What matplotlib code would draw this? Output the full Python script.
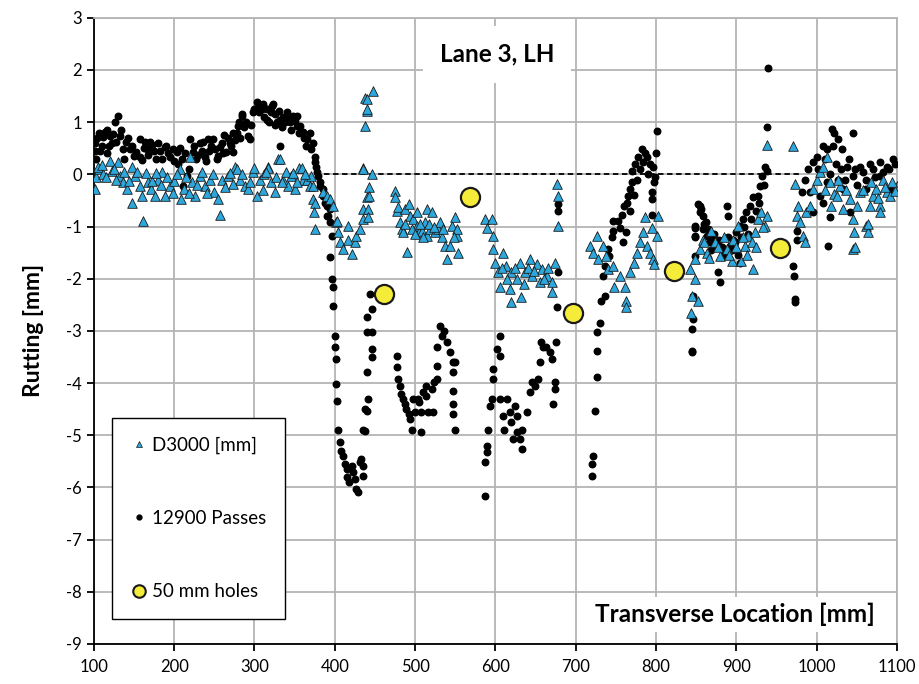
import matplotlib.pyplot as plt
from matplotlib.lines import Line2D

plt.rcParams['font.family'] = ['Lato', 'DejaVu Sans']
plt.rcParams['axes.unicode_minus'] = False

# 12900 Passes (black dots)
passes_x = [101, 101, 103, 107, 110, 114, 117, 120, 123, 126, 130, 132, 136, 140, 145, 150, 157, 157, 162, 166,
            170, 173, 178, 182, 188, 192, 195, 200, 203, 207, 210, 211, 216, 220, 223, 227, 232, 235, 238, 242,
            246, 251, 255, 259, 262, 265, 269, 273, 273, 278, 279, 282, 285, 285, 290, 292, 294, 298, 303, 304,
            309, 312, 315, 318, 322, 323, 326, 328, 332, 332, 336, 340, 344, 348, 353, 353, 357, 360, 362, 366,
            369, 371, 373, 375, 375, 377, 378, 379, 381, 381, 385, 385, 388, 390, 390, 392, 394, 394, 396, 394,
            396, 398, 398, 400, 400, 402, 402, 403, 404, 406, 408, 410, 413, 415, 415, 418, 421, 423, 425, 427,
            429, 431, 433, 435, 435, 435, 437, 437, 440, 441, 440, 440, 440, 444, 446, 446, 446, 446,
            477, 477, 479, 481, 483, 485, 487, 489, 492, 494, 496, 497, 500, 503, 505, 507, 507, 510, 514, 514,
            516, 521, 522, 524, 527, 527, 527, 531, 533, 536, 540, 543, 547, 550, 547, 547, 547, 547, 550,
            587, 587, 589, 589, 591, 593, 596, 597, 597, 602, 606, 606, 606, 609, 611, 614, 618, 620, 622, 625,
            627, 627, 630, 633, 633, 639, 643, 645, 649, 653, 655, 657, 659, 663, 668, 670, 674, 674, 672, 676,
            678, 678, 678, 677,
            720, 720, 722, 724, 726, 726, 726, 730, 732, 736, 734, 736, 740, 742, 745, 746, 746, 753, 755, 757,
            759, 764, 765, 767, 770, 770, 774, 778, 782, 784, 789, 790, 796, 797, 795, 795, 795, 801,
            845, 845, 845, 846, 846, 848, 848, 848, 848, 848, 852, 855, 855, 856, 858, 858, 862, 863, 867, 870,
            876, 877, 879, 882, 886, 888, 890, 892, 896, 900, 904, 904, 908, 912, 917, 921, 927, 930, 932, 938,
            938, 940,
            970, 972, 973, 973, 975, 975, 982, 985, 989, 992, 995, 996, 1000, 1004, 1008, 1008, 1013, 1013, 1014,
            1017, 1019, 1022, 1027, 1027, 1031, 1033, 1038, 1041, 1045, 1045, 1054, 1062, 1062, 1070, 1079, 1079,
            1087, 1091, 1095,
            104, 108, 112, 116, 119, 124, 128, 134, 138, 143, 148, 153, 160, 164, 168, 175, 180, 185, 190, 198,
            205, 213, 218, 225, 230, 236, 240, 244, 248, 253, 257, 261, 267, 271, 276, 281, 287, 296, 300, 306,
            311, 316, 320, 325, 330, 334, 338, 342, 346, 350, 355, 364,
            760, 762, 768, 772, 776, 780, 786, 792, 799, 800,
            860, 865, 868, 872, 878, 884, 890, 894, 898, 902, 906, 910, 914, 918, 924, 928, 934, 936,
            1002, 1010, 1016, 1020, 1024, 1030, 1035, 1040, 1048, 1050, 1058, 1066, 1073, 1083, 1090, 1098]
passes_y = [0.61, 0.44, 0.30, 0.80, 0.55, 0.82, 0.40, 0.73, 0.60, 1.00, 1.11, 0.73, 0.48, 0.62, 0.48, 0.35, 0.67, 0.34, 0.50, 0.48,
            0.62, 0.57, 0.29, 0.45, 0.52, 0.40, 0.34, 0.25, 0.42, 0.50, 0.29, -0.23, -0.04, 0.67, 0.42, 0.30, 0.61, 0.45, 0.34, 0.67,
            0.55, 0.48, 0.35, 0.61, 0.75, 0.42, 0.60, 0.80, 0.42, 0.80, 0.92, 0.70, 1.11, 1.15, 1.00, 0.73, 0.67, 1.20, 1.38, 1.30,
            1.25, 1.10, 1.25, 1.00, 1.30, 1.34, 1.15, 1.00, 0.54, 1.05, 1.10, 1.19, 1.00, 1.11, 1.11, 0.92, 0.92, 0.82, 0.70, 0.67,
            0.80, 0.48, 0.61, 0.34, 0.23, 0.15, 0.04, -0.04, -0.15, -0.23, -0.29, -0.42, -0.55, -0.61, -0.80, -0.80, -0.67, -0.92, -1.19, -1.59,
            -2.01, -2.15, -2.53, -3.10, -3.30, -3.54, -4.02, -4.35, -4.89, -5.13, -5.30, -5.40, -5.55, -5.65, -5.80, -5.90, -5.59, -5.70, -5.84, -6.03,
            -6.08, -5.52, -5.46, -5.59, -5.78, -4.89, -4.50, -4.92, -4.54, -4.31, -3.79, -3.03, -2.74, -2.30, -3.03, -2.59, -3.35, -3.50,
            -3.49, -3.70, -3.93, -4.06, -4.20, -4.31, -4.40, -4.50, -4.60, -4.69, -4.89, -4.31, -4.56, -4.31, -4.37, -4.56, -4.94, -4.18, -4.06, -4.25,
            -4.56, -4.12, -4.56, -3.98, -3.93, -3.68, -3.30, -2.91, -3.10, -3.00, -3.22, -3.41, -3.60, -3.60, -3.79, -4.16, -4.41, -4.60, -4.89,
            -5.52, -6.17, -5.21, -5.33, -4.89, -4.44, -4.31, -3.73, -3.93, -3.35, -3.10, -3.49, -4.31, -4.63, -4.89, -4.31, -4.56, -4.75, -5.08, -4.44,
            -4.94, -4.63, -5.08, -5.27, -4.89, -4.56, -4.18, -3.98, -4.06, -3.93, -3.60, -3.22, -3.30, -3.31, -3.41, -3.54, -3.98, -4.12, -4.41, -3.22,
            -0.57, -0.71, -1.88, -2.55,
            -5.79, -5.56, -5.40, -4.54, -3.89, -3.39, -3.03, -2.84, -2.43, -2.34, -1.95, -1.76, -1.44, -1.57, -1.21, -1.09, -0.90, -0.90, -1.02, -0.77,
            -1.30, -0.54, -0.42, -0.29, -0.15, 0.06, 0.19, 0.34, 0.48, 0.23, 0.34, 0.00, 0.15, -0.15, -0.34, -0.48, -0.77, 0.84,
            -3.41, -3.39, -2.97, -2.78, -2.34, -1.57, -1.21, -1.02, -0.99, -1.19, -0.57, -0.73, -0.61, -0.67, -0.80, -1.05, -0.92, -1.19, -1.30, -1.25,
            -1.38, -1.88, -2.07, -1.40, -1.50, -0.61, -0.80, -1.38, -1.25, -1.11, -0.99, -1.69, -0.86, -0.73, -0.61, -0.44, -0.42, -0.23, -0.04, 0.06,
            0.90, 2.03,
            -1.76, -1.95, -2.39, -2.45, -1.25, -1.09, -0.34, -0.10, 0.10, -0.34, 0.23, -0.73, 0.34, -0.42, 0.54, -0.54, 0.48, -0.15, -1.38,
            -0.82, 0.86, 0.80, 0.67, -0.10, 0.48, -0.29, 0.15, -0.73, 0.80, -0.04, 0.15, -0.10, -0.29, 0.10, 0.23, -0.04,
            0.15, -0.29, 0.29,
            0.70, 0.45, 0.72, 0.85, 0.55, 0.78, 0.62, 0.85, 0.30, 0.70, 0.55, 0.42, 0.28, 0.62, 0.38, 0.45, 0.60, 0.30, 0.55, 0.48,
            0.20, 0.40, 0.10, 0.55, 0.38, 0.62, 0.25, 0.45, 0.68, 0.30, 0.52, 0.40, 0.70, 0.55, 0.65, 1.00, 0.90, 0.95, 1.25, 1.20,
            1.35, 1.05, 1.20, 0.95, 1.22, 0.90, 1.00, 1.12, 0.85, 1.02, 0.80, 0.55,
            -0.60, -1.10, -0.70, -0.40, -0.10, 0.10, 0.40, 0.20, -0.05, 0.40,
            -0.95, -1.05, -1.45, -1.15, -1.25, -1.55, -1.20, -1.45, -1.30, -1.55, -1.20, -1.00, -1.15, -0.85, -0.70, -0.55, -0.20, 0.15,
            0.10, 0.30, 0.00, 0.55, 0.20, 0.10, -0.10, 0.30, 0.10, -0.20, 0.05, 0.20, -0.05, 0.05, 0.10, 0.20]

# D3000 [mm] (blue triangles)
d3000_x = [101, 103, 107, 105, 112, 120, 122, 130, 132, 136, 141, 147, 147, 151, 157, 160, 161, 167, 171, 176,
           180, 185, 188, 195, 200, 207, 209, 212, 220, 222, 226, 232, 238, 245, 250, 254, 257, 260, 267, 276,
           278, 282, 288, 292, 298, 300, 303, 307, 312, 317, 317, 321, 325, 329, 332, 336, 342, 346, 350, 356,
           359, 360, 365, 369, 371, 373, 373, 375, 375, 374, 385, 390, 394, 398, 402, 403, 404, 406, 410, 416,
           416, 421, 425, 427, 431, 435, 435, 435, 435, 437, 437, 440, 440, 440, 440, 442, 443, 446, 447, 441, 441,
           475, 475, 477, 479, 481, 484, 485, 487, 490, 493, 494, 498, 502, 502, 505, 508, 512, 515, 515, 518,
           521, 525, 528, 531, 533, 537, 540, 543, 546, 550, 552, 552, 553,
           587, 589, 596, 597, 597, 599, 603, 606, 609, 613, 620, 618, 620, 627, 630, 632, 637, 643, 646, 652,
           655, 658, 664, 670, 670, 674, 677, 678, 678,
           718, 722, 726, 728, 734, 738, 740, 746, 748, 755, 761, 763, 763, 768, 772, 776, 780, 784, 786, 789,
           792, 796, 801, 802, 795, 798,
           842, 848, 845, 852, 843, 848, 855, 858, 863, 869, 874, 880, 888, 894, 896, 902, 906, 911, 915, 919,
           921, 923, 927, 931, 936, 938, 938,
           970, 973, 977, 976, 979, 983, 985, 987, 992, 995, 1000, 1004, 1008, 1013, 1017, 1021, 1025, 1029, 1033, 1041,
           1045, 1047, 1045, 1048, 1054, 1062, 1064, 1064, 1066, 1070, 1074, 1079, 1079, 1083, 1087, 1091, 1100, 1098,
           110, 115, 125, 128, 138, 144, 154, 165, 173, 178, 183, 191, 198, 203, 215, 218, 229, 235, 241, 248,
           263, 270, 273, 285, 295, 310, 314, 327, 334, 339, 348, 353, 363,
           488, 496, 500, 506, 510, 517, 523, 535, 548,
           608, 615, 624, 635, 640, 648, 660, 666,
           860, 866, 877, 884, 891, 899, 908, 913, 925, 933,
           1010, 1018, 1026, 1037, 1050, 1058, 1068, 1076, 1085, 1094]
d3000_y = [-0.29, -0.05, 0.10, 0.15, 0.00, 0.25, 0.06, 0.23, -0.04, -0.15, -0.29, -0.54, 0.15, -0.04, -0.23, -0.42, -0.90, -0.15, -0.29, -0.42,
           -0.10, 0.04, -0.42, -0.23, -0.13, 0.10, -0.48, -0.29, 0.34, -0.15, -0.42, -0.04, -0.23, -0.10, -0.34, -0.48, -0.77, -0.10, -0.04, 0.15,
           0.10, -0.10, -0.23, -0.29, 0.04, 0.13, -0.42, -0.10, 0.00, 0.15, 0.13, -0.15, -0.34, 0.29, 0.29, -0.10, -0.23, -0.04, -0.29, 0.13,
           0.13, -0.10, -0.10, -0.23, -0.04, -0.23, -0.48, -0.54, -1.05, -0.73, -0.34, -0.42, -0.48, -0.61, -0.92, -0.90, -1.11, -1.30, -1.44, -0.99,
           -1.25, -1.53, -1.30, -1.19, -1.05, -0.86, -0.67, 0.13, 0.10, 0.92, 1.47, 1.21, 1.25, 1.44, -0.44, -0.25, -0.42, 0.00, 1.59, -0.67, -0.82,
           -0.32, -0.44, -0.71, -0.63, -0.92, -1.05, -1.11, -0.67, -1.49, -0.57, -0.80, -0.86, -0.99, -0.73, -1.11, -1.09, -0.92, -1.19, -0.67, -1.05,
           -0.73, -1.11, -1.05, -0.92, -1.21, -1.38, -1.63, -1.38, -0.99, -0.82, -1.19, -1.05, -1.50,
           -0.86, -1.02, -0.86, -1.19, -1.44, -1.69, -1.88, -2.15, -1.50, -1.76, -1.88, -2.20, -2.45, -2.01, -1.69, -2.36, -1.88, -1.63, -1.95, -1.72,
           -2.07, -1.82, -1.95, -2.07, -2.26, -1.69, -0.19, -0.42, -0.99,
           -1.38, -1.50, -1.19, -1.63, -1.38, -1.57, -1.82, -1.76, -2.15, -1.95, -2.15, -2.43, -2.55, -1.88, -1.69, -1.50, -1.30, -1.11, -0.82, -1.38,
           -1.50, -1.63, -1.19, -0.80, -1.02, -1.72,
           -1.82, -2.01, -2.34, -2.43, -2.65, -1.63, -1.44, -1.25, -1.50, -1.09, -1.30, -1.57, -1.44, -1.67, -1.25, -0.99, -1.67, -1.38, -1.19, -1.30,
           -1.82, -1.11, -0.86, -0.73, -0.99, -0.80, 0.57,
           0.54, -0.19, -0.61, -0.80, -0.92, -1.19, -1.30, -0.73, -0.61, -0.29, -0.10, 0.04, 0.15, 0.34, -0.15, -0.38, -0.42, -0.23, -0.67, -0.48,
           -0.86, -1.11, -1.44, -1.40, -0.34, -0.99, -1.11, -0.96, -0.61, -0.42, -0.29, -0.61, -0.73, -0.10, -0.34, -0.42, -0.23, -0.32,
           0.18, -0.05, 0.10, -0.10, 0.05, -0.12, 0.05, 0.02, -0.12, 0.02, -0.20, -0.05, -0.35, 0.00, -0.05, -0.35, -0.20, 0.05, -0.35, 0.00,
           -0.25, 0.02, -0.18, 0.00, -0.15, -0.30, 0.05, -0.05, -0.15, 0.05, 0.02, -0.15, 0.00,
           -0.95, -1.05, -1.15, -0.95, -1.20, -0.95, -1.00, -1.05, -1.20,
           -1.80, -2.00, -1.80, -2.10, -1.80, -1.85, -2.00, -1.80,
           -1.30, -1.60, -1.40, -1.20, -1.55, -1.40, -1.20, -1.55, -1.40, -1.00,
           -0.30, -0.60, -0.10, -0.30, -0.60, -0.30, -0.15, -0.45, -0.25, -0.15]

# 50 mm holes (yellow circles)
holes_x = [461, 568, 697, 822, 954]
holes_y = [-2.30, -0.44, -2.66, -1.86, -1.42]

fig = plt.figure(figsize=(9.2, 6.84), dpi=100)
ax = fig.add_axes([0.102, 0.0585, 0.873, 0.9155])

ax.plot([375, 980], [0, 0], color='black', linestyle=(0, (3, 2)), linewidth=1.3, zorder=2)

ax.scatter(passes_x, passes_y, s=22, color='black', zorder=3)
ax.scatter(d3000_x, d3000_y, s=48, marker='^', color='#2ea8dc', edgecolors='#1a1a1a', linewidths=0.6, zorder=4)
ax.scatter(holes_x, holes_y, s=190, color='#f5ec3a', edgecolors='#1a1a1a', linewidths=1.6, zorder=5)

ax.set_xlim(100, 1100)
ax.set_ylim(-9, 3)
ax.set_xticks(range(100, 1101, 100))
ax.set_yticks(range(-9, 4))
ax.set_yticklabels([str(v) for v in range(-9, 4)])
ax.grid(True, color='#b4b4b4', linewidth=1.3, zorder=0)
ax.set_axisbelow(True)
for side in ['top', 'right']:
    ax.spines[side].set_color('#b4b4b4')
    ax.spines[side].set_linewidth(1.3)
for side in ['left', 'bottom']:
    ax.spines[side].set_color('black')
    ax.spines[side].set_linewidth(1.3)
ax.tick_params(axis='both', labelsize=12, color='black', width=1.3, length=5, direction='out')
ax.tick_params(axis='x', pad=6)

ax.set_ylabel('Rutting [mm]', fontsize=16.5, fontweight='bold', labelpad=16)
ax.text(898, -8.43, 'Transverse Location [mm]', fontsize=17.5, fontweight='bold', ha='center', va='center',
        bbox=dict(facecolor='white', edgecolor='none', pad=4), zorder=6)
ax.text(602, 2.30, 'Lane 3, LH', fontsize=17.5, fontweight='bold', ha='center', va='center',
        bbox=dict(facecolor='white', edgecolor='none', pad=12), zorder=6)

handles = [
    Line2D([], [], linestyle='none', marker='^', markersize=5, markerfacecolor='#2ea8dc',
           markeredgecolor='#1a1a1a', markeredgewidth=0.5, label='D3000 [mm]'),
    Line2D([], [], linestyle='none', marker='o', markersize=3.5, color='black', label='12900 Passes'),
    Line2D([], [], linestyle='none', marker='o', markersize=9, markerfacecolor='#f5ec3a',
           markeredgecolor='#1a1a1a', markeredgewidth=1.5, label='50 mm holes'),
]
leg = ax.legend(handles=handles, loc='lower left', bbox_to_anchor=(0.022, 0.04), fontsize=13.5,
                labelspacing=3.0, borderpad=1.0, handletextpad=0.25, handlelength=0.9,
                fancybox=False, framealpha=1, edgecolor='black', borderaxespad=0)
leg.get_frame().set_linewidth(1.0)
leg.set_zorder(7)

plt.savefig('out.png', dpi=100)
